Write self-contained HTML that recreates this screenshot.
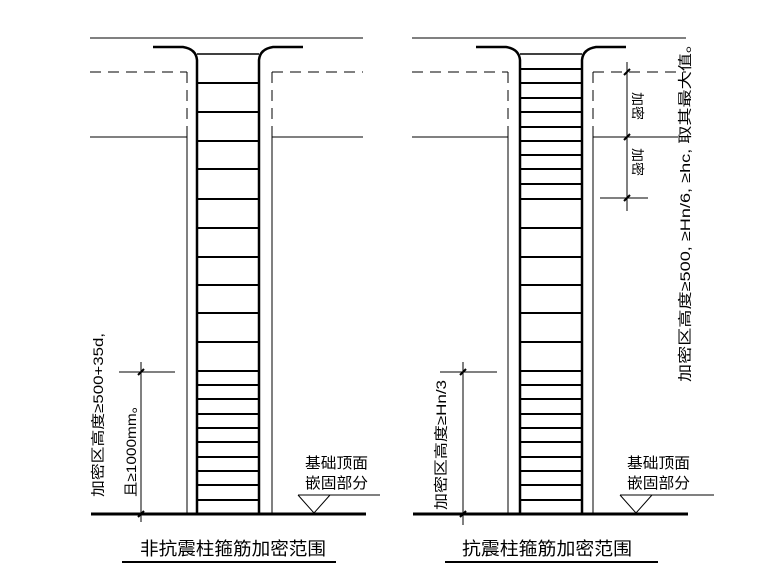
<!DOCTYPE html>
<html><head><meta charset="utf-8"><style>
html,body{margin:0;padding:0;background:#fff;}
svg{display:block;}
text{font-family:"Liberation Sans","Noto Sans CJK SC",sans-serif;fill:#000;}
</style></head><body>
<svg width="780" height="584" viewBox="0 0 780 584" xmlns="http://www.w3.org/2000/svg">
<g stroke="#000" fill="none">
<!-- LEFT -->
<line x1="90" y1="38" x2="363" y2="38" stroke-width="1"/>
<path d="M153 47 H183 Q196 49 197 60 V514" stroke-width="2.5"/>
<path d="M303 47 H273 Q260 49 259 60 V514" stroke-width="2.5"/>
<line x1="197" y1="54" x2="259" y2="54" stroke-width="1.5"/>
<line x1="90" y1="72" x2="187" y2="72" stroke-dasharray="11,7"/>
<line x1="272" y1="72" x2="363" y2="72" stroke-dasharray="11,7"/>
<line x1="187" y1="72" x2="187" y2="137" stroke-dasharray="11,7"/>
<line x1="272" y1="72" x2="272" y2="137" stroke-dasharray="11,7"/>
<line x1="90" y1="137" x2="187" y2="137"/>
<line x1="272" y1="137" x2="363" y2="137"/>
<line x1="187" y1="137" x2="187" y2="514"/>
<line x1="272" y1="137" x2="272" y2="514"/>
<g stroke-width="2">
<line x1="197" y1="83" x2="259" y2="83"/><line x1="197" y1="112" x2="259" y2="112"/>
<line x1="197" y1="141" x2="259" y2="141"/><line x1="197" y1="169" x2="259" y2="169"/>
<line x1="197" y1="199" x2="259" y2="199"/><line x1="197" y1="228" x2="259" y2="228"/>
<line x1="197" y1="257" x2="259" y2="257"/><line x1="197" y1="285" x2="259" y2="285"/>
<line x1="197" y1="313" x2="259" y2="313"/><line x1="197" y1="342" x2="259" y2="342"/>
<line x1="197" y1="371" x2="259" y2="371"/><line x1="197" y1="385" x2="259" y2="385"/>
<line x1="197" y1="399" x2="259" y2="399"/><line x1="197" y1="414" x2="259" y2="414"/>
<line x1="197" y1="428" x2="259" y2="428"/><line x1="197" y1="442" x2="259" y2="442"/>
<line x1="197" y1="457" x2="259" y2="457"/><line x1="197" y1="471" x2="259" y2="471"/>
<line x1="197" y1="485" x2="259" y2="485"/><line x1="197" y1="500" x2="259" y2="500"/>
</g>
<line x1="91" y1="514" x2="366" y2="514" stroke-width="3"/>
<line x1="141" y1="362" x2="141" y2="522"/>
<line x1="119" y1="372" x2="175" y2="372"/>
<line x1="138" y1="375" x2="144" y2="369" stroke-width="2"/>
<line x1="138" y1="517" x2="144" y2="511" stroke-width="2"/>
<path d="M298 495 H380 M298 495 L314 513 L330 495"/>
<line x1="122" y1="562" x2="336" y2="562" stroke-width="2"/>

<!-- RIGHT -->
<line x1="412" y1="38" x2="686" y2="38"/>
<path d="M476 47 H506 Q519 49 520 60 V514" stroke-width="2.5"/>
<path d="M626 47 H596 Q583 49 582 60 V514" stroke-width="2.5"/>
<line x1="520" y1="54" x2="582" y2="54" stroke-width="1.5"/>
<line x1="412" y1="72" x2="508" y2="72" stroke-dasharray="11,7"/>
<line x1="593" y1="72" x2="686" y2="72" stroke-dasharray="11,7"/>
<line x1="508" y1="72" x2="508" y2="137" stroke-dasharray="11,7"/>
<line x1="593" y1="72" x2="593" y2="137" stroke-dasharray="11,7"/>
<line x1="412" y1="137" x2="508" y2="137"/>
<line x1="593" y1="137" x2="678" y2="137"/>
<line x1="508" y1="137" x2="508" y2="514"/>
<line x1="593" y1="137" x2="593" y2="514"/>
<g stroke-width="2">
<line x1="520" y1="69" x2="582" y2="69"/><line x1="520" y1="83" x2="582" y2="83"/>
<line x1="520" y1="98" x2="582" y2="98"/><line x1="520" y1="112" x2="582" y2="112"/>
<line x1="520" y1="127" x2="582" y2="127"/><line x1="520" y1="141" x2="582" y2="141"/>
<line x1="520" y1="155" x2="582" y2="155"/><line x1="520" y1="169" x2="582" y2="169"/>
<line x1="520" y1="184" x2="582" y2="184"/><line x1="520" y1="199" x2="582" y2="199"/>
<line x1="520" y1="228" x2="582" y2="228"/><line x1="520" y1="257" x2="582" y2="257"/>
<line x1="520" y1="285" x2="582" y2="285"/><line x1="520" y1="313" x2="582" y2="313"/>
<line x1="520" y1="342" x2="582" y2="342"/><line x1="520" y1="371" x2="582" y2="371"/>
<line x1="520" y1="385" x2="582" y2="385"/><line x1="520" y1="399" x2="582" y2="399"/>
<line x1="520" y1="414" x2="582" y2="414"/><line x1="520" y1="428" x2="582" y2="428"/>
<line x1="520" y1="442" x2="582" y2="442"/><line x1="520" y1="457" x2="582" y2="457"/>
<line x1="520" y1="471" x2="582" y2="471"/><line x1="520" y1="485" x2="582" y2="485"/>
<line x1="520" y1="500" x2="582" y2="500"/>
</g>
<line x1="413" y1="514" x2="688" y2="514" stroke-width="3"/>
<line x1="627" y1="62" x2="627" y2="211"/>
<line x1="600" y1="198" x2="648" y2="198"/>
<line x1="624" y1="75" x2="630" y2="69" stroke-width="2"/>
<line x1="624" y1="140" x2="630" y2="134" stroke-width="2"/>
<line x1="624" y1="201" x2="630" y2="195" stroke-width="2"/>
<line x1="463" y1="362" x2="463" y2="525"/>
<line x1="440" y1="372" x2="497" y2="372"/>
<line x1="460" y1="375" x2="466" y2="369" stroke-width="2"/>
<line x1="460" y1="517" x2="466" y2="511" stroke-width="2"/>
<path d="M620 495 H714 M620 495 L636 513 L652 495"/>
<line x1="445" y1="562" x2="658" y2="562" stroke-width="2"/>
</g>

<!-- Texts -->
<text transform="translate(103,497) rotate(-90)" font-size="14" textLength="164" lengthAdjust="spacingAndGlyphs">加密区高度≥500+35d,</text>
<text transform="translate(136,497) rotate(-90)" font-size="14" textLength="99" lengthAdjust="spacingAndGlyphs">且≥1000mm。</text>
<text x="305" y="468" font-size="15" textLength="63" lengthAdjust="spacingAndGlyphs">基础顶面</text>
<text x="305" y="488" font-size="15" textLength="63" lengthAdjust="spacingAndGlyphs">嵌固部分</text>
<text x="140" y="555" font-size="18" textLength="186" lengthAdjust="spacingAndGlyphs">非抗震柱箍筋加密范围</text>

<text transform="translate(446,510) rotate(-90)" font-size="14" textLength="130" lengthAdjust="spacingAndGlyphs">加密区高度≥Hn/3</text>
<text transform="translate(690,382) rotate(-90)" font-size="14" textLength="347" lengthAdjust="spacingAndGlyphs">加密区高度≥500, ≥Hn/6, ≥hc, 取其最大值。</text>
<text transform="translate(633,92) rotate(90)" font-size="13" textLength="28" lengthAdjust="spacingAndGlyphs">加密</text>
<text transform="translate(633,148) rotate(90)" font-size="13" textLength="28" lengthAdjust="spacingAndGlyphs">加密</text>
<text x="627" y="468" font-size="15" textLength="63" lengthAdjust="spacingAndGlyphs">基础顶面</text>
<text x="627" y="488" font-size="15" textLength="63" lengthAdjust="spacingAndGlyphs">嵌固部分</text>
<text x="462" y="555" font-size="18" textLength="170" lengthAdjust="spacingAndGlyphs">抗震柱箍筋加密范围</text>
</svg>
</body></html>
